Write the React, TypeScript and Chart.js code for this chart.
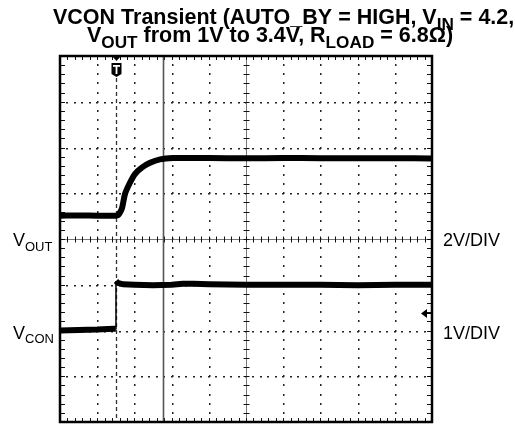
import React, { useEffect, useRef } from "react";
import { Chart, registerables } from "chart.js";
Chart.register(...registerables);

// time in divisions (10 div across), voltages in volts
const voutTime = [0, 0.5, 1.0, 1.5, 1.56, 1.62, 1.67, 1.75, 1.88, 2.02, 2.2, 2.42, 2.69, 3.04, 3.5, 4, 5, 6, 7, 8, 9, 10];
const voutVolts = [1.02, 1.03, 1.02, 1.02, 1.04, 1.18, 1.37, 1.98, 2.46, 2.85, 3.12, 3.33, 3.48, 3.54, 3.54, 3.54, 3.53, 3.54, 3.53, 3.53, 3.53, 3.52];
const vconTime = [0, 0.5, 1.0, 1.45, 1.5, 1.505, 1.55, 1.7, 2.0, 2.5, 3.0, 3.3, 3.6, 4, 5, 6, 7, 8, 9, 10];
const vconVolts = [0.0, 0.01, 0.02, 0.04, 0.04, 1.08, 1.04, 1.01, 1.0, 0.99, 1.0, 1.02, 1.02, 1.01, 1.0, 1.0, 1.0, 0.99, 1.0, 1.0];

const voutScale = 2; // V/div
const vconScale = 1; // V/div
const voutOffsetDiv = 0; // ground position in divisions from center
const vconOffsetDiv = -2;
const triggerTime = 1.5;
const triggerLevel = 0.38; // V on VCON
const cursorTime = 2.77;

const titleLine1 = [
  { t: "VCON Transient (AUTO_BY = HIGH, V" },
  { t: "IN", sub: true },
  { t: " = 4.2," },
];
const titleLine2 = [
  { t: "V" },
  { t: "OUT", sub: true },
  { t: " from 1V to 3.4V, R" },
  { t: "LOAD", sub: true },
  { t: " = 6.8\u03A9)" },
];

const FONT = '"Liberation Sans", Arial, sans-serif';

function drawRich(ctx: CanvasRenderingContext2D, x: number, y: number, segs: any[], size: number, bold: boolean, subRatio: number) {
  let cx = x;
  const w = bold ? "bold " : "";
  for (const s of segs) {
    if (s.sub) {
      ctx.font = `${w}${(size * subRatio).toFixed(1)}px ${FONT}`;
      ctx.fillText(s.t, cx, y + size * 0.27);
    } else {
      ctx.font = `${w}${size}px ${FONT}`;
      ctx.fillText(s.t, cx, y);
    }
    cx += ctx.measureText(s.t).width;
  }
}

const scopePlugin = {
  id: "scope",
  beforeDatasetsDraw(chart: any) {
    const { ctx, chartArea: a, scales } = chart;
    const xs = scales.x;
    const yo = scales.yOut;
    const X = (d: number) => xs.getPixelForValue(d);
    const Y = (d: number) => yo.getPixelForValue(d * voutScale);
    ctx.save();
    ctx.fillStyle = "#fff";
    ctx.fillRect(a.left, a.top, a.right - a.left, a.bottom - a.top);
    // dotted grid
    ctx.fillStyle = "#222";
    for (let gy = -3; gy <= 3; gy++) {
      if (gy === 0) continue;
      const py = Math.round(Y(gy));
      for (let s = 1; s < 50; s++) {
        const px = Math.round(X(s * 0.2));
        ctx.fillRect(px - 1, py, 2, 1.5);
      }
    }
    for (let gx = 1; gx <= 9; gx++) {
      if (gx === 5) continue;
      const px = Math.round(X(gx));
      for (let s = -19; s < 20; s++) {
        const py = Math.round(Y(s * 0.2));
        ctx.fillRect(px, py - 1, 1.5, 2);
      }
    }
    // center lines
    ctx.strokeStyle = "#777";
    ctx.lineWidth = 1;
    const cy = Math.round(Y(0)) + 0.5;
    const cx = Math.round(X(5)) + 0.5;
    ctx.beginPath();
    ctx.moveTo(a.left, cy); ctx.lineTo(a.right, cy);
    ctx.moveTo(cx, a.top); ctx.lineTo(cx, a.bottom);
    ctx.stroke();
    ctx.strokeStyle = "#111";
    ctx.beginPath();
    for (let s = 1; s < 50; s++) {
      const px = Math.round(X(s * 0.2)) + 0.5;
      ctx.moveTo(px, cy - 3); ctx.lineTo(px, cy + 3);
      ctx.moveTo(px, a.top); ctx.lineTo(px, a.top + 4);
      ctx.moveTo(px, a.bottom); ctx.lineTo(px, a.bottom - 4);
    }
    for (let s = -19; s < 20; s++) {
      const py = Math.round(Y(s * 0.2)) + 0.5;
      ctx.moveTo(cx - 3, py); ctx.lineTo(cx + 3, py);
      ctx.moveTo(a.left, py); ctx.lineTo(a.left + 5, py);
      ctx.moveTo(a.right, py); ctx.lineTo(a.right - 5, py);
    }
    ctx.stroke();
    // trigger dashed line
    const tx = Math.round(X(triggerTime)) + 0.5;
    ctx.strokeStyle = "#333";
    ctx.lineWidth = 1.3;
    ctx.setLineDash([4, 3]);
    ctx.beginPath();
    ctx.moveTo(tx, a.top + 22); ctx.lineTo(tx, a.bottom);
    ctx.stroke();
    ctx.setLineDash([]);
    // cursor
    const kx = Math.round(X(cursorTime)) + 0.5;
    ctx.strokeStyle = "#555";
    ctx.lineWidth = 1.6;
    ctx.beginPath();
    ctx.moveTo(kx, a.top); ctx.lineTo(kx, a.bottom);
    ctx.stroke();
    ctx.restore();
  },
  afterDatasetsDraw(chart: any) {
    const { ctx, chartArea: a, scales } = chart;
    const xs = scales.x;
    const yc = scales.yCon;
    const yo = scales.yOut;
    ctx.save();
    // frame
    ctx.strokeStyle = "#000";
    ctx.lineWidth = 2.5;
    ctx.strokeRect(a.left, a.top, a.right - a.left, a.bottom - a.top);
    // trigger T marker
    const tx = Math.round(xs.getPixelForValue(triggerTime)) + 0.5;
    ctx.fillStyle = "#000";
    ctx.beginPath();
    ctx.moveTo(tx - 4.5, a.top); ctx.lineTo(tx + 4.5, a.top); ctx.lineTo(tx, a.top + 5); ctx.closePath();
    ctx.fill();
    ctx.beginPath();
    ctx.moveTo(tx - 5, a.top + 7);
    ctx.lineTo(tx + 5, a.top + 7);
    ctx.lineTo(tx + 5, a.top + 18);
    ctx.lineTo(tx, a.top + 21);
    ctx.lineTo(tx - 5, a.top + 18);
    ctx.closePath();
    ctx.fill();
    ctx.fillStyle = "#fff";
    ctx.fillRect(tx - 3.5, a.top + 9, 7, 1.8);
    ctx.fillRect(tx - 0.9, a.top + 9, 1.8, 9);
    // trigger level arrow
    const ly = Math.round(yc.getPixelForValue(triggerLevel)) + 0.5;
    ctx.fillStyle = "#000";
    ctx.beginPath();
    ctx.moveTo(a.right - 11, ly); ctx.lineTo(a.right - 5, ly - 4.5); ctx.lineTo(a.right - 5, ly + 4.5); ctx.closePath();
    ctx.fill();
    ctx.strokeStyle = "#000";
    ctx.lineWidth = 1;
    ctx.beginPath(); ctx.moveTo(a.right - 6, ly); ctx.lineTo(a.right, ly); ctx.stroke();
    // labels
    ctx.fillStyle = "#000";
    ctx.textBaseline = "alphabetic";
    ctx.textAlign = "left";
    const oy = yo.getPixelForValue(voutOffsetDiv * voutScale);
    const cy = yc.getPixelForValue(0);
    drawRich(ctx, 13, oy + 7, [{ t: "V" }, { t: "OUT", sub: true }], 18, false, 0.72);
    drawRich(ctx, 13, cy + 8, [{ t: "V" }, { t: "CON", sub: true }], 18, false, 0.72);
    ctx.font = `18px ${FONT}`;
    ctx.fillText("2V/DIV", 443, oy + 7);
    ctx.fillText("1V/DIV", 443, cy + 8);
    // title
    drawRich(ctx, 53, 24, titleLine1, 21.5, true, 0.8);
    drawRich(ctx, 87, 42, titleLine2, 21.5, true, 0.8);
    ctx.restore();
  },
};

export default function App() {
  const ref = useRef<HTMLCanvasElement | null>(null);
  useEffect(() => {
    if (!ref.current) return;
    const thick = (c: any) => (c.p1.parsed.x - c.p0.parsed.x < 0.02 ? 1.5 : 6);
    const chart = new Chart(ref.current, {
      type: "line",
      data: {
        datasets: [
          {
            data: voutTime.map((t, i) => ({ x: t, y: voutVolts[i] })),
            yAxisID: "yOut",
            borderColor: "#000",
            borderWidth: 6,
            pointRadius: 0,
            tension: 0.3,
            segment: { borderWidth: thick },
          } as any,
          {
            data: vconTime.map((t, i) => ({ x: t, y: vconVolts[i] })),
            yAxisID: "yCon",
            borderColor: "#000",
            borderWidth: 6,
            pointRadius: 0,
            tension: 0,
            segment: { borderWidth: thick },
          } as any,
        ],
      },
      options: {
        responsive: false,
        animation: false,
        layout: { padding: { left: 60, right: 83, top: 56, bottom: 3 } },
        plugins: { legend: { display: false }, tooltip: { enabled: false }, title: { display: false } },
        scales: {
          x: { type: "linear", min: 0, max: 10, display: false },
          yOut: { type: "linear", min: (-4 - voutOffsetDiv) * voutScale, max: (4 - voutOffsetDiv) * voutScale, display: false },
          yCon: { type: "linear", min: (-4 - vconOffsetDiv) * vconScale, max: (4 - vconOffsetDiv) * vconScale, display: false },
        },
      },
      plugins: [scopePlugin],
    });
    return () => chart.destroy();
  }, []);
  return (
    <div style={{ position: "fixed", left: 0, top: 0, width: 515, height: 425, background: "#fff" }}>
      <canvas ref={ref} width={515} height={425} style={{ display: "block", width: 515, height: 425 }} />
    </div>
  );
}
